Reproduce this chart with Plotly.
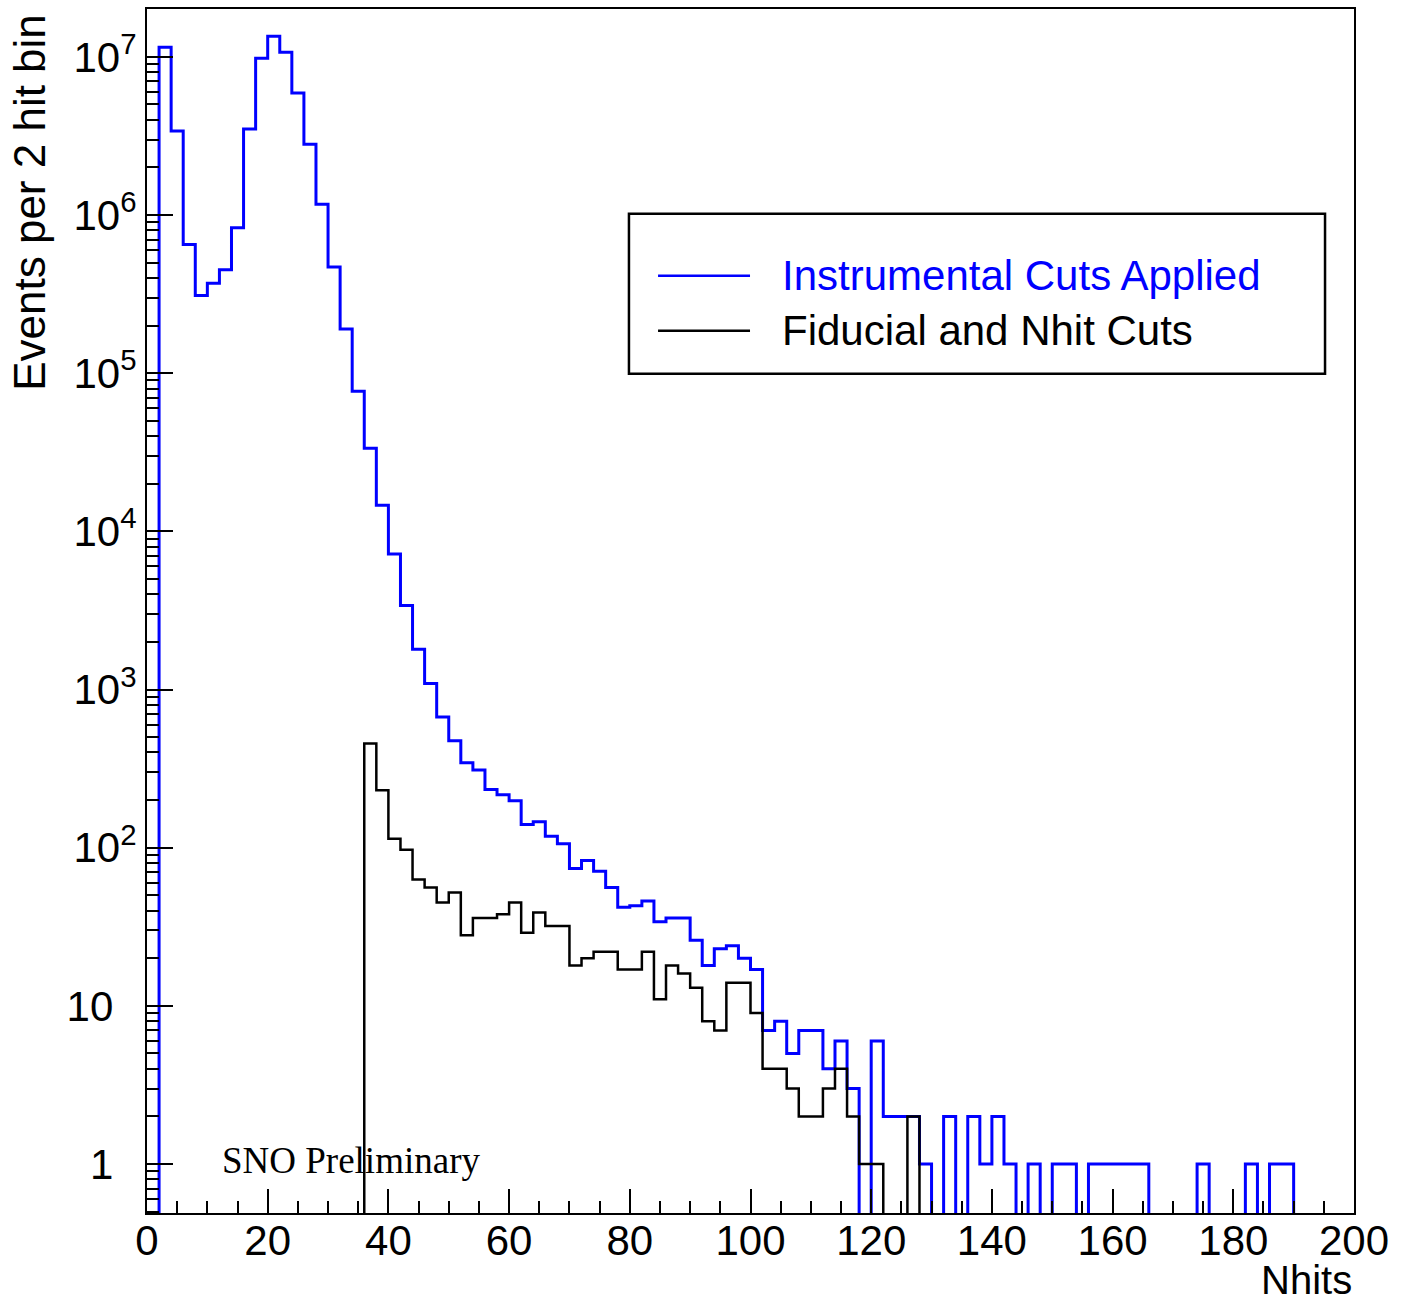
import numpy as np
import plotly.graph_objects as go

# ---- data: 2-hit bins from 0 to 200 Nhits ----
bin_edges = list(range(0, 202, 2))

instrumental_cuts = [
    0, 1.15e7, 3.4e6, 6.5e5, 3.1e5, 3.7e5, 4.5e5, 8.3e5, 3.5e6, 9.8e6,      # 0-20
    1.35e7, 1.07e7, 5.9e6, 2.8e6, 1.17e6, 4.7e5, 1.9e5, 7.7e4, 3.35e4, 1.46e4,  # 20-40
    7200, 3400, 1800, 1090, 670, 475, 344, 310, 233, 216,                    # 40-60
    198, 140, 146, 118, 106, 74, 83, 71, 56, 42,                             # 60-80
    43, 46, 34, 36, 36, 26, 18, 23, 24, 20,                                  # 80-100
    17, 7, 8, 5, 7, 7, 4, 6, 3, 0,                                           # 100-120
    6, 2, 2, 2, 1, 0, 2, 0, 2, 1,                                            # 120-140
    2, 1, 0, 1, 0, 1, 1, 0, 1, 1,                                            # 140-160
    1, 1, 1, 0, 0, 0, 0, 1, 0, 0,                                            # 160-180
    0, 1, 0, 1, 1, 0, 0, 0, 0, 0,                                            # 180-200
]

fiducial_nhit_cuts = [
    0, 0, 0, 0, 0, 0, 0, 0, 0, 0,                                            # 0-20
    0, 0, 0, 0, 0, 0, 0, 0, 455, 231,                                        # 20-40
    114, 97, 63, 56, 45, 52, 28, 36, 36, 38,                                 # 40-60
    45, 29, 39, 32, 32, 18, 20, 22, 22, 17,                                  # 60-80
    17, 22, 11, 18, 16, 13, 8, 7, 14, 14,                                    # 80-100
    9, 4, 4, 3, 2, 2, 3, 4, 2, 1,                                            # 100-120
    1, 0, 0, 2, 0, 0, 0, 0, 0, 0,                                            # 120-140
    0, 0, 0, 0, 0, 0, 0, 0, 0, 0,                                            # 140-160
    0, 0, 0, 0, 0, 0, 0, 0, 0, 0,                                            # 160-180
    0, 0, 0, 0, 0, 0, 0, 0, 0, 0,                                            # 180-200
]

series_names = ["Instrumental Cuts Applied", "Fiducial and Nhit Cuts"]
series_colors = ["#0000ff", "#000000"]

y_tick_vals = [1, 10, 1e2, 1e3, 1e4, 1e5, 1e6, 1e7]
y_tick_text = ["1&nbsp;&nbsp;", "10&nbsp;&nbsp;", "10<sup>2</sup>", "10<sup>3</sup>",
               "10<sup>4</sup>", "10<sup>5</sup>", "10<sup>6</sup>", "10<sup>7</sup>"]

FONT = "Liberation Sans, Arial, Helvetica, sans-serif"


def step_xy(values):
    """Histogram outline: left edges + final right edge, empty bins sent below the axis."""
    y = list(values) + [values[-1]]
    y = [v if v > 0 else 1e-3 for v in y]
    return bin_edges, y


fig = go.Figure()
for vals, name, col, lw in [
    (instrumental_cuts, series_names[0], series_colors[0], 3),
    (fiducial_nhit_cuts, series_names[1], series_colors[1], 2.5),
]:
    x, y = step_xy(vals)
    fig.add_trace(go.Scatter(x=x, y=y, mode="lines", line=dict(shape="hv", color=col, width=lw),
                             name=name, showlegend=False))

# minor tick values on the log axis (2..9 within each decade)
minor_vals = [k * 10.0 ** e for e in range(-1, 8) for k in range(2, 10)]

fig.update_layout(
    width=1411, height=1308,
    margin=dict(l=147, r=57, t=7, b=95),
    paper_bgcolor="white", plot_bgcolor="white",
    font=dict(family=FONT, size=42, color="black"),
    xaxis=dict(
        range=[0, 200], tick0=0, dtick=20,
        ticks="inside", ticklen=24, tickwidth=2, tickcolor="black",
        showline=True, linecolor="black", linewidth=2, mirror=True,
        showgrid=False, zeroline=False, ticklabelstandoff=-10,
        tickfont=dict(family=FONT, size=42, color="black"),
        minor=dict(ticks="inside", ticklen=12, tickwidth=2, tickcolor="black",
                   tick0=0, dtick=5, showgrid=False),
    ),
    yaxis=dict(
        type="log", range=[-0.3095, 7.3025],
        tickmode="array", tickvals=y_tick_vals, ticktext=y_tick_text,
        ticks="inside", ticklen=26, tickwidth=2, tickcolor="black",
        showline=True, linecolor="black", linewidth=2, mirror=True,
        showgrid=False, zeroline=False,
        tickfont=dict(family=FONT, size=42, color="black"),
        minor=dict(ticks="inside", ticklen=12, tickwidth=2, tickcolor="black",
                   tickmode="array", tickvals=minor_vals, showgrid=False),
    ),
)

# axis titles (ROOT style: aligned to the axis ends)
fig.add_annotation(text="Nhits", xref="paper", yref="paper", x=1.0, y=-0.056,
                   xanchor="right", yanchor="middle", showarrow=False,
                   font=dict(family=FONT, size=40, color="black"))
fig.add_annotation(text="Events per 2 hit bin", xref="paper", yref="paper", x=-0.097, y=0.998,
                   xanchor="center", yanchor="top", textangle=-90, showarrow=False,
                   font=dict(family=FONT, size=44, color="black"))

# legend box drawn ROOT-style
fig.add_shape(type="rect", xref="paper", yref="paper", x0=0.3993, x1=0.9760, y0=0.6971, y1=0.8299,
              line=dict(color="black", width=2.5), fillcolor="white", layer="above")
legend_rows_y = [0.7784, 0.7328]
for name, col, yy in zip(series_names, series_colors, legend_rows_y):
    fig.add_shape(type="line", xref="paper", yref="paper", x0=0.4234, x1=0.4996, y0=yy, y1=yy,
                  line=dict(color=col, width=2.5), layer="above")
    fig.add_annotation(text=name, xref="paper", yref="paper", x=0.5244, y=yy,
                       xanchor="left", yanchor="middle", showarrow=False,
                       font=dict(family=FONT, size=42, color=col))

fig.add_annotation(text="SNO Preliminary", xref="paper", yref="paper", x=0.0605, y=0.044,
                   xanchor="left", yanchor="middle", showarrow=False,
                   font=dict(family="Liberation Serif, Times New Roman, serif", size=37, color="black"))

fig.write_html("out.html")
